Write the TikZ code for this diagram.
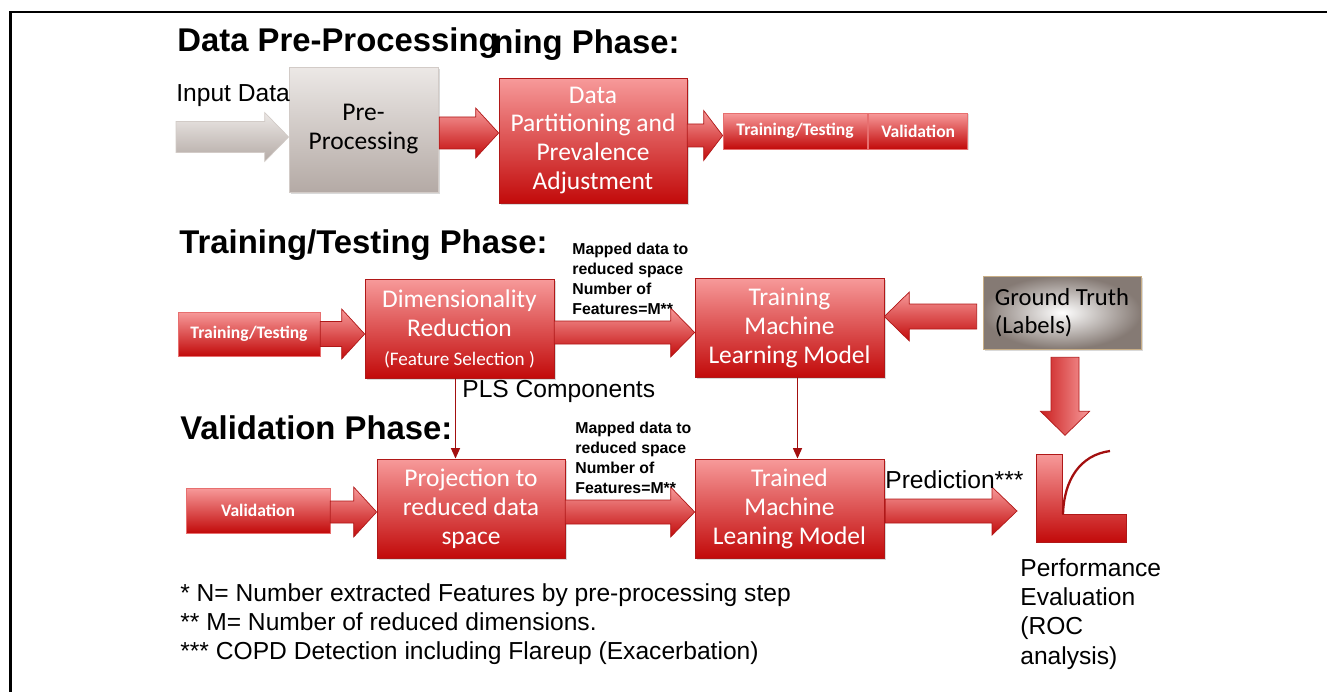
\documentclass[tikz,border=0pt]{standalone}
\usepackage{fontspec}
\setmainfont{Liberation Sans}
\newfontfamily\boxfont{Carlito}
\usetikzlibrary{positioning,calc,arrows.meta,shadows}

% Blockpfeil: [Optionen]{Start}{Ziel}{halbe Breite}{halbe Spitze}{Spitzenlaenge}
\newcommand{\blockarrow}[6][]{%
	\coordinate (batip) at (#2 -| #3);
	\path[blockarr,#1] ($(#2)+(0,{-(#4)})$) -- ($(batip)+({-(#6)},{-(#4)})$) -- ($(batip)+({-(#6)},{-(#5)})$) -- (batip)
		-- ($(batip)+({-(#6)},#5)$) -- ($(batip)+({-(#6)},#4)$) -- ($(#2)+(0,#4)$) -- cycle;}

\begin{document}
\begin{tikzpicture}[x=0.02cm,y=-0.02cm,
	redbox/.style={draw=redline, top color=redtop, bottom color=redbot, text=white, align=center, inner sep=0pt,
		font=\boxfont\fontsize{14.5}{16.5}\selectfont, drop shadow={shadow xshift=1pt, shadow yshift=-1pt, opacity=0.3}},
	redlabel/.style={draw=redtop!70!redbot, top color=redtop, bottom color=redbot, text=white, inner sep=0pt,
		font=\boxfont\bfseries\fontsize{10}{12}\selectfont, drop shadow={shadow xshift=0.8pt, shadow yshift=-0.8pt, opacity=0.25}},
	greybox/.style={draw=greyline, top color=greytop, bottom color=greybot, align=center, inner sep=0pt,
		font=\boxfont\fontsize{14.5}{16.5}\selectfont, drop shadow={shadow xshift=1pt, shadow yshift=-1pt, opacity=0.3}},
	gtbox/.style={draw=gtline, inner color=white, outer color=gtouter, align=left, inner sep=0pt,
		font=\boxfont\fontsize{14}{15.9}\selectfont, drop shadow={shadow xshift=1pt, shadow yshift=-1pt, opacity=0.3}},
	blockarr/.style={draw=redline, top color=redtop, bottom color=redbot},
	greyarr/.style={draw=greyline, top color=greytop, bottom color=greybot},
	downarr/.style={draw=redline, left color=redbot!85!redtop, right color=redtop},
	titletext/.style={font=\bfseries\fontsize{18.7}{22}\selectfont, inner sep=0pt},
	plaintext/.style={font=\fontsize{14}{16.6}\selectfont, inner sep=0pt, align=left},
	mapnote/.style={font=\bfseries\fontsize{9}{11.3}\selectfont, inner sep=0pt, align=left},
	thinarr/.style={draw=thinred, line width=1.1pt, -{Triangle[width=5pt,length=6pt]}}]

	\definecolor{redtop}{HTML}{F79A9A}
	\definecolor{redbot}{HTML}{C20A0A}
	\definecolor{redline}{HTML}{B01818}
	\definecolor{greytop}{HTML}{ECE8E6}
	\definecolor{greybot}{HTML}{B4AAA5}
	\definecolor{greyline}{HTML}{D2CBC7}
	\definecolor{gtouter}{HTML}{857A74}
	\definecolor{gtline}{HTML}{C8AE86}
	\definecolor{thinred}{HTML}{A30F0F}

	\useasboundingbox (0,0) rectangle (1327,692);

	% Rahmen
	\draw[line width=1.3pt] (10.5,692) -- (10.5,12) -- (1327,12);

	% Ueberschriften
	\node[titletext, anchor=base west] (ttlpre) at (177,52) {Data Pre-Processing};
	\node[titletext, anchor=base east] (ttlrest) at (680,54) {ning Phase:};
	\node[titletext, anchor=base west] (ttltrain) at (179,254) {Training/Testing Phase:};
	\node[titletext, anchor=base west] (ttlval) at (180,439) {Validation Phase:};

	% Kaesten Vorverarbeitung
	\node[greybox, minimum width=2.98cm, minimum height=2.5cm] (pre) at (363.5,129.5) {Pre-\\Processing};
	\node[redbox, minimum width=3.76cm, minimum height=2.5cm] (data) at (593,140.5) {Data\\Partitioning and\\Prevalence\\Adjustment};
	\node[redlabel, minimum width=2.88cm, minimum height=0.72cm] (ttone) at (795,131) {Training/Testing};
	\node[redlabel, minimum width=1.98cm, minimum height=0.72cm, right=0.02cm of ttone] (valone) {Validation};

	% Kaesten Training
	\node[redlabel, minimum width=2.84cm, minimum height=0.88cm] (tttwo) at (249,334) {Training/Testing};
	\node[redbox, minimum width=3.78cm, minimum height=1.98cm] (dim) at (459.5,328.5)
		{Dimensionality\\Reduction\\{\fontsize{10.9}{12}\selectfont(Feature Selection )}};
	\node[redbox, minimum width=3.78cm, minimum height=1.98cm] (train) at (789.5,327.5) {Training\\Machine\\Learning Model};
	\node[gtbox, minimum width=3.16cm, minimum height=1.46cm] (gt) at (1062,312.5) {Ground Truth\\(Labels)};

	% Kaesten Validierung
	\node[redlabel, minimum width=2.88cm, minimum height=0.9cm] (valtwo) at (258,510.5) {Validation};
	\node[redbox, minimum width=3.76cm, minimum height=1.98cm] (proj) at (471,508.5) {Projection to\\reduced data\\space};
	\node[redbox, minimum width=3.78cm, minimum height=1.98cm] (trained) at (789.5,508.5) {Trained\\Machine\\Leaning Model};

	% ROC
	\path[blockarr] (1036,454) -- (1062,454) -- (1062,514) -- (1126,514) -- (1126,542) -- (1036,542) -- cycle;
	\draw[thinred, line width=1.3pt] (1063,514) .. controls (1064,480) and (1080,455) .. (1110,451);

	% Pfeile
	\coordinate (inputstart) at (176,137);
	\blockarrow[greyarr]{inputstart}{pre.west}{15.5}{24.5}{24}
	\coordinate (prestart) at ($(pre.east)+(1,3.5)$);
	\blockarrow{prestart}{data.west}{16}{25}{23}
	\coordinate (datastart) at ($(data.east)+(0,-5)$);
	\blockarrow{datastart}{ttone.west}{11.5}{25}{19}
	\coordinate (ttstart) at (tttwo.east);
	\blockarrow{ttstart}{dim.west}{12.5}{25}{23}
	\coordinate (dimstart) at ($(dim.east)+(0,4)$);
	\blockarrow{dimstart}{train.west}{11.5}{24.5}{24}
	\coordinate (gtstart) at ($(gt.west)+(-6,4)$);
	\blockarrow{gtstart}{train.east}{12.5}{24.5}{-25}
	\coordinate (valstart) at ($(valtwo.east)+(0,1.5)$);
	\blockarrow{valstart}{proj.west}{11}{25}{23}
	\coordinate (projstart) at ($(proj.east)+(0,3.5)$);
	\blockarrow{projstart}{trained.west}{12}{25}{24}
	\coordinate (predstart) at ($(trained.east)+(1,2.5)$);
	\coordinate (roctip) at (1017,511);
	\blockarrow{predstart}{roctip}{12}{24}{25}
	\coordinate (gtdown) at ($(gt.south)+(3,8)$);
	\path[downarr] ($(gtdown)+(-14,0)$) -- ($(gtdown)+(-14,54)$) -- ($(gtdown)+(-24.5,54)$) -- ($(gtdown)+(0,78)$)
		-- ($(gtdown)+(24.5,54)$) -- ($(gtdown)+(14,54)$) -- ($(gtdown)+(14,0)$) -- cycle;

	% duenne Pfeile
	\coordinate (plstop) at ([xshift=-0.08cm]dim.south);
	\draw[thinarr] (plstop) -- (plstop |- proj.north);
	\coordinate (modeltop) at ([xshift=0.16cm]train.south);
	\draw[thinarr] (modeltop) -- (modeltop |- trained.north);

	% Texte
	\node[plaintext, anchor=base west] (input) at (176,102) {Input Data};
	\node[plaintext, anchor=base west] (pls) at (462,397) {PLS Components};
	\node[plaintext, anchor=base west] (pred) at (885,488) {Prediction***};
	\node[mapnote, anchor=west] (mapone) at (572,279) {Mapped data to\\reduced space\\Number of\\Features=M**};
	\node[mapnote, anchor=west] (maptwo) at (575,458) {Mapped data to\\reduced space\\Number of\\Features=M**};
	\node[plaintext, anchor=west] (perf) at (1020,614) {Performance\\Evaluation\\(ROC\\analysis)};
	\node[plaintext, anchor=west] (notes) at (180,624)
		{* N= Number extracted Features by pre-processing step\\{}** M= Number of reduced dimensions.\\{}*** COPD Detection including Flareup (Exacerbation)};

\end{tikzpicture}
\end{document}
